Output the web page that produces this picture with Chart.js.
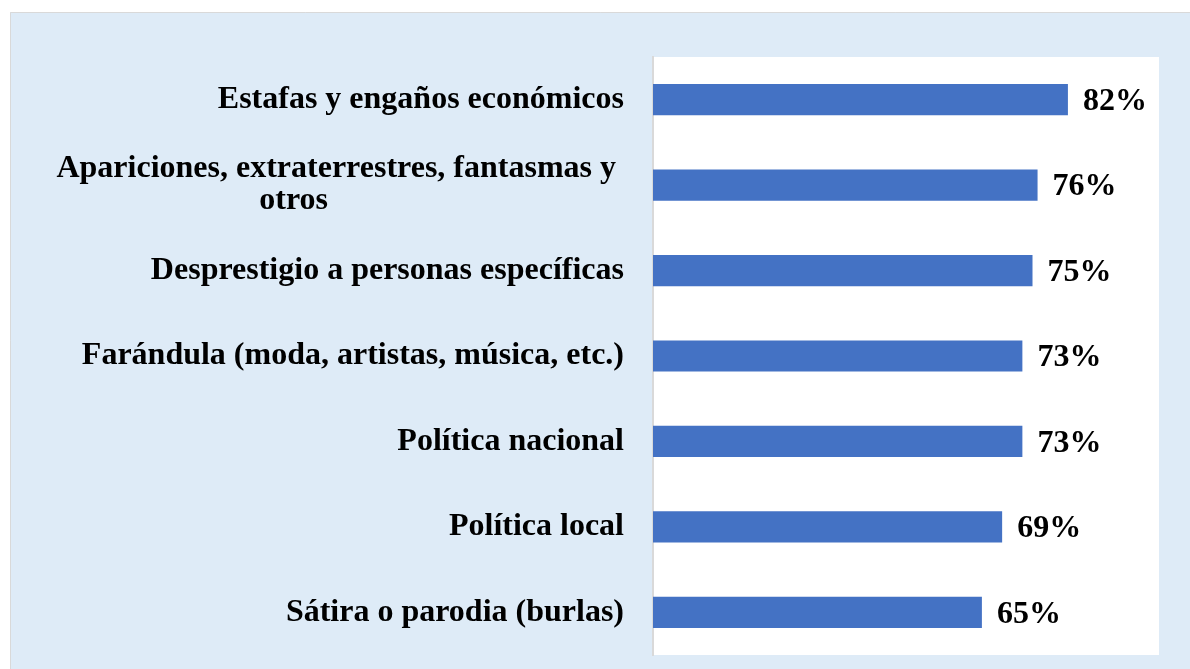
<!DOCTYPE html>
<html>
<head>
<meta charset="utf-8">
<script src="https://cdn.jsdelivr.net/npm/chart.js@4"></script>
<style>
  body { margin: 0; background: #fff; }
  #wrap { width: 1190px; height: 669px; }
</style>
</head>
<body>
<div id="wrap"><canvas id="chart" width="1190" height="669"></canvas></div>
<script>
const categories = [
    'Estafas y engaños económicos',
    ['Apariciones, extraterrestres, fantasmas y ', 'otros' + ' '.repeat(37)],
    'Desprestigio a personas específicas',
    'Farándula (moda, artistas, música, etc.)',
    'Política nacional',
    'Política local',
    'Sátira o parodia (burlas)'
];
const values = [82, 76, 75, 73, 73, 69, 65];
const valueLabels = ['82%', '76%', '75%', '73%', '73%', '69%', '65%'];

const fontFamily = '"Liberation Serif", "Times New Roman", serif';
const fontSize = 32;

// light blue panel + white plot area
const backgroundPlugin = {
    id: 'panel',
    beforeDraw(chart) {
        const ctx = chart.ctx;
        const area = chart.chartArea;
        ctx.save();
        ctx.fillStyle = '#DEEBF7';
        ctx.fillRect(10, 12, chart.width - 10, chart.height - 12);
        ctx.strokeStyle = '#D9D9D9';
        ctx.lineWidth = 1;
        ctx.beginPath();
        ctx.moveTo(10.5, chart.height);
        ctx.lineTo(10.5, 12.5);
        ctx.lineTo(chart.width, 12.5);
        ctx.stroke();
        ctx.fillStyle = '#FFFFFF';
        ctx.fillRect(area.left, area.top, area.right - area.left, area.bottom - area.top);
        ctx.restore();
    }
};

// value labels at the end of each bar
const valueLabelPlugin = {
    id: 'valueLabels',
    afterDatasetsDraw(chart) {
        const ctx = chart.ctx;
        const meta = chart.getDatasetMeta(0);
        ctx.save();
        ctx.font = 'bold ' + fontSize + 'px ' + fontFamily;
        ctx.fillStyle = '#000';
        ctx.textAlign = 'left';
        ctx.textBaseline = 'middle';
        meta.data.forEach((bar, i) => {
            ctx.fillText(valueLabels[i], bar.x + 15, bar.y + 2);
        });
        ctx.restore();
    }
};

new Chart(document.getElementById('chart').getContext('2d'), {
    type: 'bar',
    data: {
        labels: categories,
        datasets: [{
            data: values,
            backgroundColor: '#4472C4',
            categoryPercentage: 1,
            barPercentage: 0.365
        }]
    },
    options: {
        indexAxis: 'y',
        responsive: false,
        animation: false,
        layout: { padding: { left: 0, top: 57, right: 31, bottom: 14 } },
        plugins: {
            legend: { display: false },
            tooltip: { enabled: false }
        },
        scales: {
            x: {
                display: false,
                min: 0,
                max: 100
            },
            y: {
                afterFit(scale) {
                    scale.width = 653;
                    scale.paddingTop = 0;
                    scale.paddingBottom = 0;
                },
                grid: { display: false, drawTicks: false },
                border: { display: true, color: '#D9D9D9', width: 2 },
                ticks: {
                    color: '#000',
                    padding: 29,
                    font: { family: fontFamily, size: fontSize, weight: 'bold', lineHeight: 1.0 }
                }
            }
        }
    },
    plugins: [backgroundPlugin, valueLabelPlugin]
});
</script>
</body>
</html>
